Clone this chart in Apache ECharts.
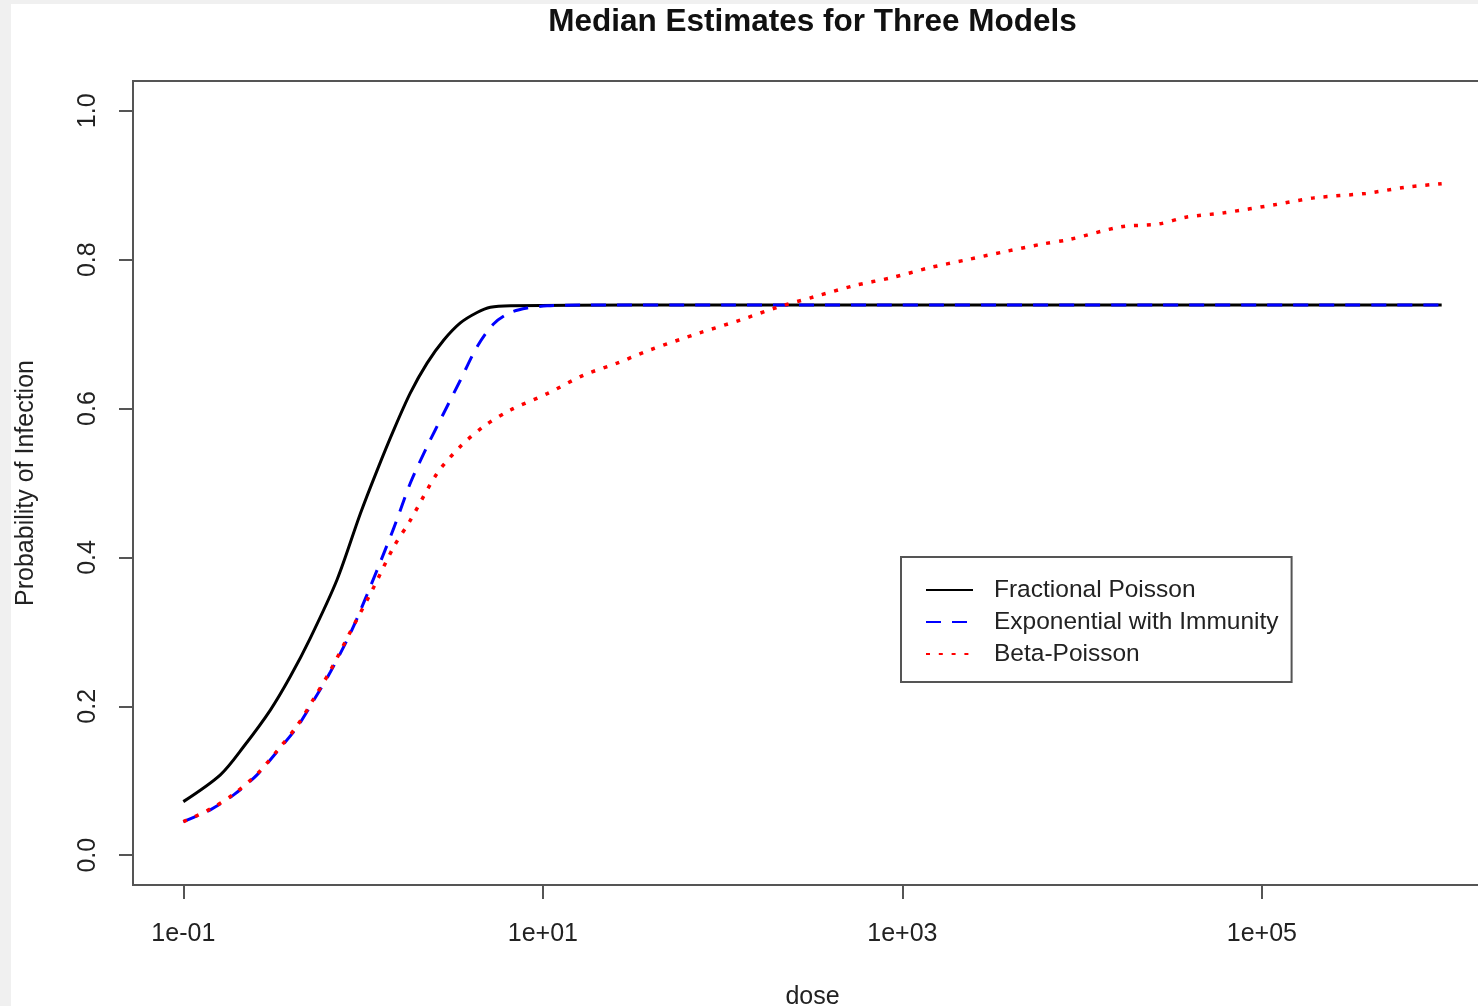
<!DOCTYPE html>
<html>
<head>
<meta charset="utf-8">
<script src="https://cdn.jsdelivr.net/npm/echarts@6/dist/echarts.min.js"></script>
<style>
  html, body { margin: 0; padding: 0; background: #f0f0f0; }
  #paper { position: absolute; left: 11px; top: 4px; right: 0; bottom: 0; background: #ffffff; }
  #chart { position: absolute; left: 0; top: 0; width: 1478px; height: 1006px; }
</style>
</head>
<body>
<div id="paper"></div>
<div id="chart"></div>
<script>
// ---- data (x = log10(dose), y = probability of infection) ----
const seriesNames = ['Fractional Poisson', 'Exponential with Immunity', 'Beta-Poisson'];

const fpLogDose = [-1.0, -0.794, -0.664, -0.516, -0.405, -0.293, -0.145, -0.015, 0.078, 0.170, 0.263, 0.356, 0.449, 0.541, 0.634, 0.708, 0.820, 1.5, 6.0];
const fpProb    = [0.072, 0.108, 0.146, 0.195, 0.240, 0.292, 0.370, 0.459, 0.517, 0.571, 0.621, 0.661, 0.692, 0.715, 0.729, 0.736, 0.738, 0.739, 0.739];

const eiLogDose = [-1.0, -0.850, -0.720, -0.590, -0.479, -0.367, -0.275, -0.182, -0.071, 0.022, 0.170, 0.263, 0.356, 0.449, 0.541, 0.634, 0.727, 0.820, 0.913, 1.024, 1.21, 2.0, 6.0];
const eiProb    = [0.045, 0.061, 0.081, 0.108, 0.139, 0.172, 0.208, 0.246, 0.298, 0.350, 0.439, 0.500, 0.549, 0.594, 0.638, 0.683, 0.714, 0.729, 0.735, 0.738, 0.739, 0.739, 0.739];

const bpLogDose = [-1.0, -0.850, -0.720, -0.590, -0.479, -0.367, -0.275, -0.182, -0.071, 0.059, 0.170, 0.263, 0.412, 0.541, 0.671, 0.820, 1.024, 1.228, 1.413, 1.599, 1.877, 2.100, 2.304, 2.508, 2.730, 2.944, 3.148, 3.361, 3.574, 3.778, 3.927, 4.214, 4.427, 4.576, 4.789, 5.077, 5.290, 5.578, 5.791, 6.0];
const bpProb    = [0.045, 0.062, 0.082, 0.109, 0.140, 0.174, 0.210, 0.248, 0.300, 0.360, 0.414, 0.450, 0.513, 0.549, 0.576, 0.598, 0.620, 0.645, 0.661, 0.679, 0.702, 0.719, 0.736, 0.750, 0.765, 0.776, 0.789, 0.800, 0.811, 0.821, 0.827, 0.844, 0.848, 0.857, 0.863, 0.874, 0.883, 0.889, 0.897, 0.902];

const xTickDoses  = [0.1, 10, 1000, 100000];
const xTickLabels = ['1e-01', '1e+01', '1e+03', '1e+05'];
const yTicks      = [0.0, 0.2, 0.4, 0.6, 0.8, 1.0];

// ---- chart ----
const FONT = "'Liberation Sans', Arial, Helvetica, sans-serif";
const AXIS_COLOR = '#555555';
const TEXT_COLOR = '#222222';

const gridLeft = 133, gridTop = 81, gridWidth = 1359, gridHeight = 804;

function pairs(xs, ys) { return xs.map((x, i) => [x, ys[i]]); }

const xTickVals = xTickDoses.map(d => Math.log10(d));
const labelMap = {};
xTickVals.forEach((v, i) => { labelMap[v.toFixed(3)] = xTickLabels[i]; });

const chart = echarts.init(document.getElementById('chart'), null, { renderer: 'canvas' });

chart.setOption({
  backgroundColor: 'transparent',
  animation: false,
  textStyle: { fontFamily: FONT },
  title: {
    text: 'Median Estimates for Three Models',
    left: gridLeft + gridWidth / 2,
    top: 6,
    padding: 0,
    textAlign: 'center',
    textStyle: { fontFamily: FONT, fontSize: 31.5, fontWeight: 'bold', color: '#111111' }
  },
  grid: {
    left: gridLeft, top: gridTop, width: gridWidth, height: gridHeight,
    show: true, borderColor: AXIS_COLOR, borderWidth: 2, backgroundColor: 'transparent',
    containLabel: false,
    outerBoundsMode: 'none'
  },
  legend: {
    orient: 'vertical',
    left: 901, top: 557,
    padding: [17, 13, 12, 24],
    itemWidth: 47, itemHeight: 14, itemGap: 0,
    backgroundColor: '#ffffff',
    borderColor: AXIS_COLOR, borderWidth: 2, borderRadius: 0,
    selectedMode: false,
    itemStyle: { opacity: 0 },
    textStyle: { fontFamily: FONT, fontSize: 24.5, lineHeight: 32, color: TEXT_COLOR, padding: [0, 0, 0, 16] },
    data: seriesNames
  },
  xAxis: {
    type: 'value',
    min: -1.28, max: 6.28,
    name: 'dose',
    nameLocation: 'middle',
    nameGap: 100,
    nameTextStyle: { fontFamily: FONT, fontSize: 25, color: TEXT_COLOR },
    axisLine: { show: false, onZero: false },
    splitLine: { show: false },
    axisTick: { show: true, length: 14, customValues: xTickVals, lineStyle: { color: AXIS_COLOR, width: 2 } },
    axisLabel: {
      customValues: xTickVals,
      margin: 37,
      fontFamily: FONT, fontSize: 25, color: TEXT_COLOR,
      formatter: v => labelMap[Number(v).toFixed(3)] || ''
    }
  },
  yAxis: {
    type: 'value',
    min: -0.04, max: 1.04,
    name: 'Probability of Infection',
    nameLocation: 'middle',
    nameGap: 94,
    nameTextStyle: { fontFamily: FONT, fontSize: 25, color: TEXT_COLOR },
    axisLine: { show: false, onZero: false },
    splitLine: { show: false },
    axisTick: { show: true, length: 14, customValues: yTicks, lineStyle: { color: AXIS_COLOR, width: 2 } },
    axisLabel: {
      customValues: yTicks,
      rotate: 90,
      margin: 32,
      fontFamily: FONT, fontSize: 25, color: TEXT_COLOR,
      formatter: v => Number(v).toFixed(1)
    }
  },
  series: [
    {
      name: seriesNames[0], type: 'line', data: pairs(fpLogDose, fpProb),
      symbol: 'none', smooth: 0.3,
      lineStyle: { color: '#000000', width: 3, type: 'solid' },
      itemStyle: { color: '#000000' }
    },
    {
      name: seriesNames[1], type: 'line', data: pairs(eiLogDose, eiProb),
      symbol: 'none', smooth: 0.3,
      lineStyle: { color: '#0000ff', width: 3, type: [15, 11] },
      itemStyle: { color: '#0000ff' }
    },
    {
      name: seriesNames[2], type: 'line', data: pairs(bpLogDose, bpProb),
      symbol: 'none', smooth: 0.3,
      lineStyle: { color: '#ff0000', width: 3.5, type: [4, 8.8] },
      itemStyle: { color: '#ff0000' }
    }
  ]
});
</script>
</body>
</html>
